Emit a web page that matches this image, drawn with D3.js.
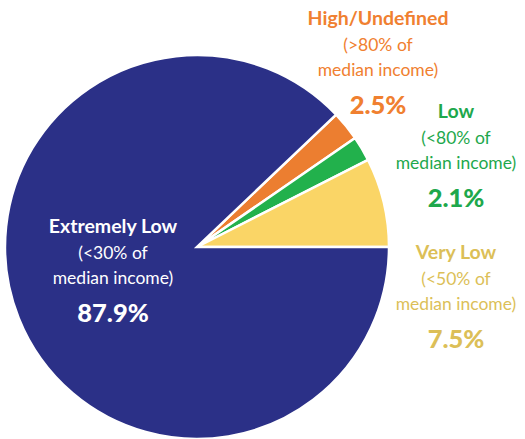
<!DOCTYPE html>
<html>
<head>
<meta charset="utf-8">
<script src="https://cdn.jsdelivr.net/npm/d3@7"></script>
<style>
  body { margin: 0; background: #fff; }
  svg { display: block; font-family: Lato, "Open Sans", sans-serif; }
</style>
</head>
<body>
<svg id="chart" width="525" height="439"></svg>
<script>
// income categories, clockwise starting from the small slices at upper right
const categories = ["High/Undefined", "Low", "Very Low", "Extremely Low"];
const subLabels = ["(>80% of", "(<80% of", "(<50% of", "(<30% of"];
const shares = [2.5, 2.1, 7.5, 87.9];
const sliceColors = ["#ec7e30", "#22b14c", "#fad566", "#2b3087"];
const textColors = ["#f08030", "#1ea84c", "#dcbf58", "#ffffff"];

const svg = d3.select("#chart");
const cx = 197, cy = 247, radius = 192;

// small slices end at 3 o'clock, rest wraps round
const smallTotal = d3.sum(shares.slice(0, 3));
const start = Math.PI / 2 - smallTotal / 100 * 2 * Math.PI;

const pie = d3.pie().sort(null).value(d => d)
    .startAngle(start).endAngle(start + 2 * Math.PI);
const arc = d3.arc().innerRadius(0).outerRadius(radius);

const g = svg.append("g").attr("transform", `translate(${cx},${cy})`);
g.selectAll("path")
    .data(pie(shares))
    .enter().append("path")
    .attr("d", arc)
    .attr("fill", (d, i) => sliceColors[i])
    .attr("stroke", "#fff")
    .attr("stroke-width", 2.5)
    .attr("stroke-linejoin", "miter");

// label anchor points (centre x, baseline of first line)
const labelPos = [[378, 25], [456, 118], [456, 259], [113, 233]];

labelPos.forEach(([x, y], i) => {
    const t = svg.append("g").attr("fill", textColors[i]).attr("text-anchor", "middle");
    t.append("text").attr("x", x).attr("y", y)
        .attr("font-weight", "bold").attr("font-size", 19.5)
        .text(categories[i]);
    t.append("text").attr("x", x).attr("y", y + 26)
        .attr("font-size", 17.5).text(subLabels[i]);
    t.append("text").attr("x", x).attr("y", y + 51)
        .attr("font-size", 17.5).text("median income)");
    t.append("text").attr("x", x).attr("y", y + 89)
        .attr("font-weight", "900").attr("font-size", 25.5)
        .text(d3.format(".1f")(shares[i]) + "%");
});
</script>
</body>
</html>
